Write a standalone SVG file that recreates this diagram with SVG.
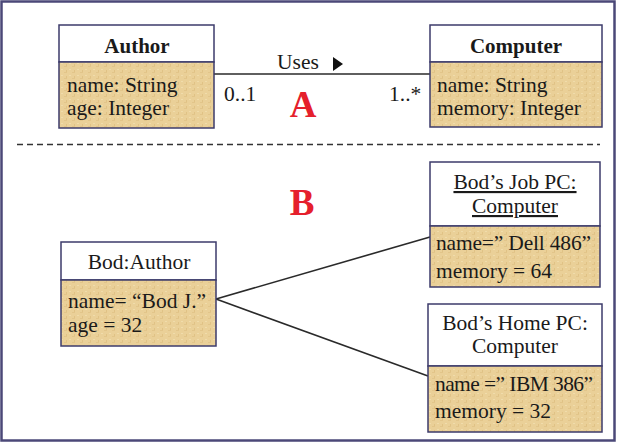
<svg xmlns="http://www.w3.org/2000/svg" width="617" height="442" viewBox="0 0 617 442">
<style>
text{font-family:"Liberation Serif","Times New Roman",serif;font-size:21.5px;fill:#1a1a1a}
.hdr{fill:#ffffff;stroke:#3d3b6b;stroke-width:1.5}
.att{fill:url(#parch);stroke:#3d3b6b;stroke-width:1.5}
.b{font-weight:bold;font-size:21px}
.c{text-anchor:middle}
.big{font-family:"Liberation Serif","Times New Roman",serif;font-weight:bold;font-size:37px;fill:#e5202c;text-anchor:middle}
.conn{stroke:#2a2a2a;stroke-width:1.6;fill:none}
</style>
<defs>
<pattern id="parch" width="8" height="6" patternUnits="userSpaceOnUse">
<rect width="8" height="6" fill="#ead098"/>
<rect x="0" y="0" width="3" height="1" fill="#e2c58a"/>
<rect x="5" y="3" width="2" height="1" fill="#f0dcab"/>
<rect x="2" y="4" width="1" height="2" fill="#e0c285"/>
</pattern>
</defs>
<rect x="1.5" y="1.5" width="613" height="439" fill="#ffffff" stroke="#4b4878" stroke-width="2.5"/>
<line x1="17" y1="144.5" x2="600" y2="144.5" stroke="#333" stroke-width="1.4" stroke-dasharray="6,4"/>
<text class="big" x="303" y="117">A</text>
<text class="big" x="302" y="215">B</text>
<g id="connectors">
<line class="conn" x1="214" y1="74" x2="430" y2="74"/>
<line class="conn" x1="216" y1="299" x2="430" y2="237"/>
<line class="conn" x1="216" y1="299" x2="428" y2="376"/>
<text x="277" y="69">Uses</text>
<polygon points="333,57 343,64 333,71" fill="#111"/>
<text x="224" y="101">0..1</text>
<text x="389" y="101">1..*</text>
</g>
<g id="author">
<rect class="hdr" x="59" y="25" width="155" height="37"/>
<rect class="att" x="59" y="62" width="155" height="66"/>
<text class="b c" x="137" y="53">Author</text>
<text x="67" y="92">name: String</text>
<text x="67" y="115">age: Integer</text>
</g>
<g id="computer">
<rect class="hdr" x="430" y="25" width="172" height="37"/>
<rect class="att" x="430" y="62" width="172" height="65"/>
<text class="b c" x="516" y="53">Computer</text>
<text x="437" y="92">name: String</text>
<text x="437" y="115">memory: Integer</text>
</g>
<g id="bod">
<rect class="hdr" x="61" y="242" width="155" height="38"/>
<rect class="att" x="61" y="280" width="155" height="66"/>
<text class="c" x="139" y="269">Bod:Author</text>
<text x="68" y="308">name= “Bod J.”</text>
<text x="68" y="332">age = 32</text>
</g>
<g id="jobpc">
<rect class="hdr" x="430" y="162" width="170" height="64"/>
<rect class="att" x="430" y="226" width="170" height="61"/>
<text class="c" x="515" y="189" text-decoration="underline">Bod’s Job PC:</text>
<text class="c" x="515" y="213" text-decoration="underline">Computer</text>
<text x="436" y="250" textLength="155" lengthAdjust="spacing">name=” Dell 486”</text>
<text x="436" y="278">memory = 64</text>
</g>
<g id="homepc">
<rect class="hdr" x="428" y="304" width="174" height="62"/>
<rect class="att" x="428" y="366" width="174" height="66"/>
<text class="c" x="515" y="330">Bod’s Home PC:</text>
<text class="c" x="515" y="353">Computer</text>
<text x="435" y="391" textLength="158" lengthAdjust="spacing">name =” IBM 386”</text>
<text x="435" y="418">memory = 32</text>
</g>
</svg>
